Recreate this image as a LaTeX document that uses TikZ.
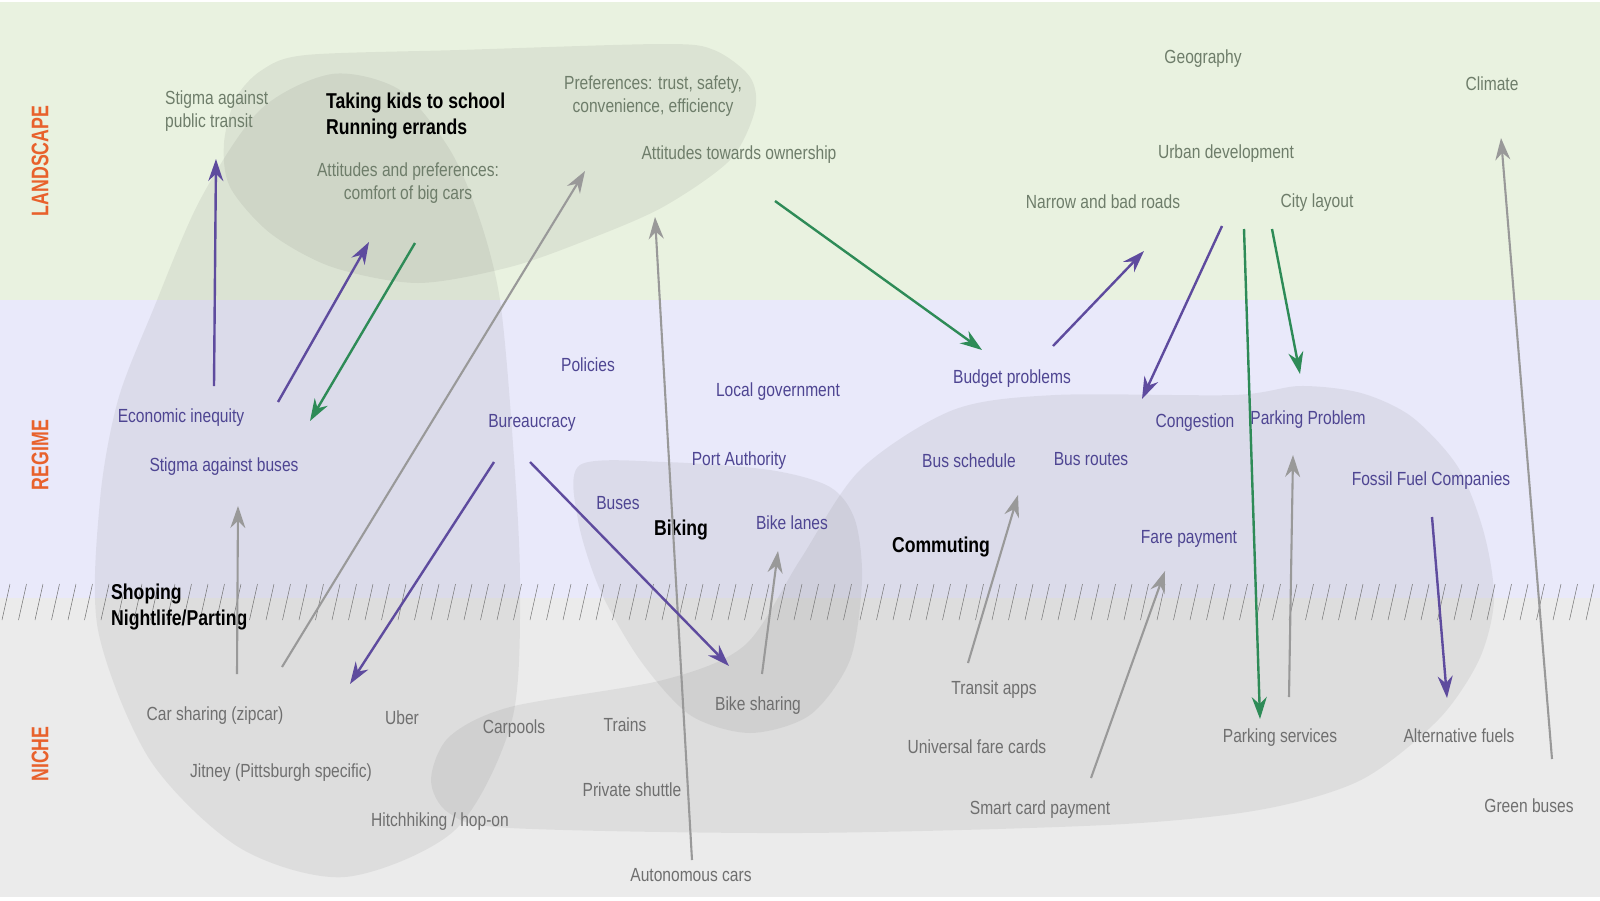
\documentclass[tikz,border=0pt]{standalone}
\usepackage{fontspec}
\setmainfont[FakeStretch=0.82]{Liberation Sans}
\newfontfamily\sidefont[FakeStretch=0.74]{Liberation Sans}
\usetikzlibrary{arrows.meta}
\definecolor{landbg}{HTML}{E9F2E0}
\definecolor{regbg}{HTML}{E9E9FA}
\definecolor{nichebg}{HTML}{EBEBEB}
\definecolor{landtxt}{HTML}{6E7D6A}
\definecolor{regtxt}{HTML}{4E4592}
\definecolor{nichetxt}{HTML}{6F6F6F}
\definecolor{sidetxt}{HTML}{E8612C}
\definecolor{arrpurple}{HTML}{5E4B9E}
\definecolor{arrgreen}{HTML}{2E8B57}
\definecolor{arrgray}{HTML}{999999}
\begin{document}
\begin{tikzpicture}[x=1pt,y=-1pt,>={Stealth[length=22pt,width=15pt]},
  land/.style={text=landtxt,font=\fontsize{19}{22.4}\selectfont,inner sep=0pt,align=center,yshift=-3pt},
  reg/.style={text=regtxt,font=\fontsize{19}{22.4}\selectfont,inner sep=0pt,align=center,yshift=-3pt},
  niche/.style={text=nichetxt,font=\fontsize{19}{22.4}\selectfont,inner sep=0pt,align=center,yshift=-3pt},
  topic/.style={text=black,font=\bfseries\fontsize{21.5}{25.5}\selectfont,inner sep=0pt,align=left,yshift=-3pt},
  side/.style={text=sidetxt,font=\sidefont\bfseries\fontsize{24}{24}\selectfont,rotate=90,inner sep=0pt},
  blob/.style={fill=black!60,fill opacity=0.1},
  hatch/.style={draw=black!55,line width=0.5pt},
  purplearrow/.style={->,draw=arrpurple,line width=2.4pt},
  greenarrow/.style={->,draw=arrgreen,line width=2.4pt},
  grayarrow/.style={->,draw=arrgray,line width=2.1pt}]
\useasboundingbox (0,0) rectangle (1600,900);
% bands
\fill[white] (0,0) rectangle (1600,900);
\fill[landbg] (0,1.5) rectangle (1600,300);
\fill[regbg] (0,300) rectangle (1600,598);
\fill[nichebg] (0,598) rectangle (1600,897);

% groups
\fill[blob] plot[smooth cycle] coordinates {(262,70) (306,55) (459,50) (663,44) (714,50) (750,77) (755,110) (730,160) (663,207) (587,240) (510,267) (418,283) (332,267) (270,233) (230,187) (224,143) (236,98)};
\fill[blob] plot[smooth cycle] coordinates {(332,74) (400,90) (450,150) (480,220) (500,300) (512,430) (520,580) (512,720) (455,830) (345,877) (240,848) (150,760) (98,630) (100,500) (118,400) (153,310) (200,200) (260,110)};
\fill[blob] plot[smooth cycle] coordinates {(580,465) (665,462) (770,470) (830,487) (855,520) (862,580) (850,660) (810,715) (750,733) (690,715) (640,660) (600,590) (578,520)};
\fill[blob] plot[smooth cycle] coordinates {(431,780) (449,737) (510,707) (663,680) (745,645) (800,560) (860,470) (953,410) (1055,395) (1234,395) (1300,386) (1361,393) (1412,417) (1458,467) (1484,533) (1494,600) (1479,660) (1438,720) (1361,780) (1259,810) (1106,825) (800,833) (510,828) (449,813)};

% border between regime and niche
\foreach \i in {0,...,97}
  \draw[hatch] (\i*16.5+2,620) -- ++(8,-36);

% side labels
\node (landscape) at (40,161)[side] {LANDSCAPE};
\node (regime) at (40,455)[side] {REGIME};
\node (nichelbl) at (40,754)[side] {NICHE};

% landscape
\node (stigpt) at (165,108)[land,anchor=west,align=left] {Stigma against\\public transit};
\node (kids) at (326,113)[topic,anchor=west] {Taking kids to school\\Running errands};
\node (bigcars) at (408,180)[land] {Attitudes and preferences:\\comfort of big cars};
\node (prefs) at (653,93)[land] {Preferences: trust, safety,\\convenience, efficiency};
\node (owner) at (739,152)[land] {Attitudes towards ownership};
\node (geo) at (1203,56)[land] {Geography};
\node (climate) at (1492,81)[land] {Climate};
\node (urban) at (1226,151)[land] {Urban development};
\node (roads) at (1103,199)[land] {Narrow and bad roads};
\node (layout) at (1317,200)[land] {City layout};

% regime
\node (ineq) at (181,415)[reg] {Economic inequity};
\node (stigbus) at (224,464)[reg] {Stigma against buses};
\node (policies) at (588,362)[reg] {Policies};
\node (localgov) at (778,389)[reg] {Local government};
\node (bureau) at (532,420)[reg] {Bureaucracy};
\node (port) at (739,458)[reg] {Port Authority};
\node (budget) at (1012,376)[reg] {Budget problems};
\node (congest) at (1195,420)[reg] {Congestion};
\node (parking) at (1308,417)[reg] {Parking Problem};
\node (schedule) at (969,458)[reg] {Bus schedule};
\node (routes) at (1091,456)[reg] {Bus routes};
\node (fossil) at (1431,478)[reg] {Fossil Fuel Companies};
\node (buses) at (618,500)[reg] {Buses};
\node (biking) at (681,527)[topic] {Biking};
\node (lanes) at (792,520)[reg] {Bike lanes};
\node (commuting) at (941,544)[topic] {Commuting};
\node (fare) at (1189,536)[reg] {Fare payment};
\node (shoping) at (111,604)[topic,anchor=west] {Shoping\\Nightlife/Parting};

% niche
\node (carshare) at (215,713)[niche] {Car sharing (zipcar)};
\node (uber) at (402,715)[niche] {Uber};
\node (carpools) at (514,726)[niche] {Carpools};
\node (trains) at (625,722)[niche] {Trains};
\node (bikeshare) at (758,703)[niche] {Bike sharing};
\node (jitney) at (281,770)[niche] {Jitney (Pittsburgh specific)};
\node (hitch) at (440,819)[niche] {Hitchhiking / hop-on};
\node (shuttle) at (632,787)[niche] {Private shuttle};
\node (auton) at (691,872)[niche] {Autonomous cars};
\node (apps) at (994,687)[niche] {Transit apps};
\node (universal) at (977,744)[niche] {Universal fare cards};
\node (smart) at (1040,807)[niche] {Smart card payment};
\node (parkserv) at (1280,735)[niche] {Parking services};
\node (altfuel) at (1459,733)[niche] {Alternative fuels};
\node (greenbus) at (1529,803)[niche] {Green buses};

% arrow ends
\coordinate (ineq-out) at (214,386);
\coordinate (stigpt-in) at (216,159);
\coordinate (ineq-up) at (278,402);
\coordinate (bigcars-in) at (369,242);
\coordinate (bigcars-out) at (415,243);
\coordinate (stigbus-in) at (310,421);
\coordinate (carshare-up) at (282,667);
\coordinate (prefs-in) at (585,171);
\coordinate (auton-out) at (692,860);
\coordinate (owner-in) at (655,217);
\coordinate (owner-out) at (775,201);
\coordinate (budget-in) at (982,350);
\coordinate (budget-out) at (1053,346);
\coordinate (roads-in) at (1144,251);
\coordinate (urban-out) at (1222,226);
\coordinate (congest-in) at (1142,399);
\coordinate (urban-down) at (1244,229);
\coordinate (parkserv-in) at (1260,719);
\coordinate (layout-out) at (1272,229);
\coordinate (parking-in) at (1300,374);
\coordinate (greenbus-out) at (1552,759);
\coordinate (climate-in) at (1501,138);
\coordinate (carshare-out) at (237,674);
\coordinate (stigbus-up) at (238,506);
\coordinate (bureau-left) at (494,462);
\coordinate (uber-in) at (350,684);
\coordinate (bureau-right) at (530,462);
\coordinate (bikeshare-in) at (729,666);
\coordinate (bikeshare-out) at (762,674);
\coordinate (lanes-in) at (778,551);
\coordinate (apps-out) at (968,663);
\coordinate (schedule-in) at (1018,495);
\coordinate (smart-out) at (1091,778);
\coordinate (fare-in) at (1165,571);
\coordinate (parkserv-out) at (1289,697);
\coordinate (parking-up) at (1293,455);
\coordinate (fossil-out) at (1432,517);
\coordinate (altfuel-in) at (1447,698);

\draw[purplearrow] (ineq-out)--(stigpt-in);
\draw[purplearrow] (ineq-up)--(bigcars-in);
\draw[greenarrow] (bigcars-out)--(stigbus-in);
\draw[grayarrow] (carshare-up)--(prefs-in);
\draw[grayarrow] (auton-out)--(owner-in);
\draw[greenarrow] (owner-out)--(budget-in);
\draw[purplearrow] (budget-out)--(roads-in);
\draw[purplearrow] (urban-out)--(congest-in);
\draw[greenarrow] (urban-down)--(parkserv-in);
\draw[greenarrow] (layout-out)--(parking-in);
\draw[grayarrow] (greenbus-out)--(climate-in);
\draw[grayarrow] (carshare-out)--(stigbus-up);
\draw[purplearrow] (bureau-left)--(uber-in);
\draw[purplearrow] (bureau-right)--(bikeshare-in);
\draw[grayarrow] (bikeshare-out)--(lanes-in);
\draw[grayarrow] (apps-out)--(schedule-in);
\draw[grayarrow] (smart-out)--(fare-in);
\draw[grayarrow] (parkserv-out)--(parking-up);
\draw[purplearrow] (fossil-out)--(altfuel-in);
\end{tikzpicture}
\end{document}
